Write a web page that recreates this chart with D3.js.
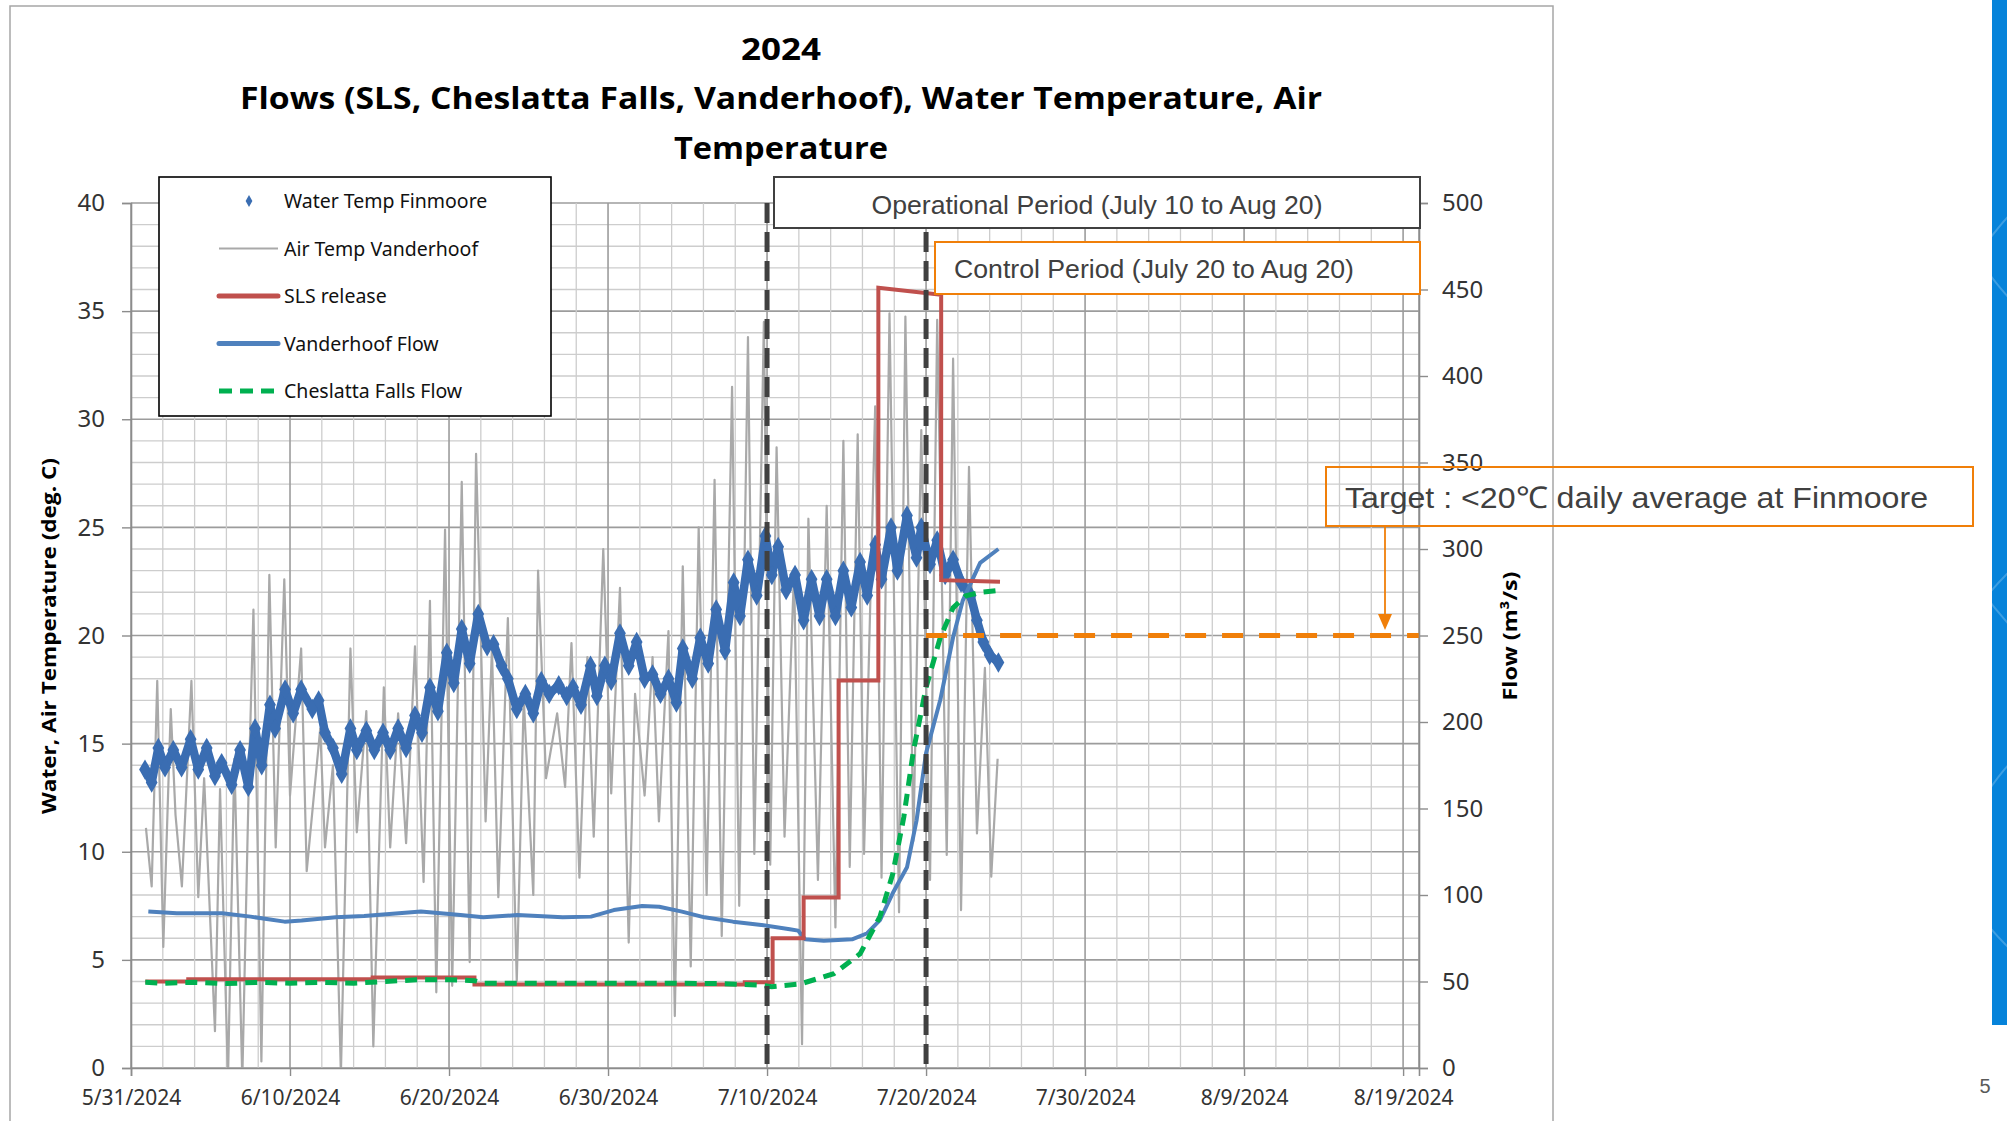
<!DOCTYPE html>
<html>
<head>
<meta charset="utf-8" />
<title>2024 Flows and Temperatures</title>
<script src="https://d3js.org/d3.v7.min.js"></script>
<style>
  body { margin:0; background:#fff; }
  svg text { font-family: "Noto Sans", "Open Sans", sans-serif; }
</style>
</head>
<body>
<svg id="chart"></svg>
<script>
// all series keyed by days after 5/31/2024 00:00
var waterDay = [0.88,1.3,1.72,2.14,2.66,3.18,3.75,4.23,4.76,5.28,5.7,6.33,6.86,7.38,7.8,8.22,8.74,9.06,9.69,10.2,10.7,11.4,11.8,12.2,12.7,13.25,13.8,14.2,14.8,15.3,15.85,16.3,16.8,17.3,17.86,18.3,18.8,19.3,19.86,20.3,20.8,21.3,21.84,22.4,22.8,23.3,23.7,24.26,24.8,25.3,25.8,26.3,26.9,27.4,27.8,28.3,28.9,29.3,29.8,30.2,30.75,31.3,31.8,32.3,32.8,33.3,33.8,34.3,34.7,35.3,35.8,36.3,36.8,37.36,37.9,38.3,38.8,39.35,39.9,40.3,40.7,41.2,41.76,42.3,42.8,43.3,43.75,44.3,44.8,45.3,45.85,46.3,46.8,47.2,47.8,48.2,48.8,49.4,49.7,50.25,50.7,51.2,51.7,52.2,52.8,53.2,53.6,54.0,54.55];
var waterTemp = [13.8,13.2,14.8,13.9,14.7,13.9,15.2,13.8,14.8,13.5,14.1,13.1,14.7,13.0,15.7,14.0,16.8,15.7,17.5,16.4,17.5,16.6,17.0,15.5,14.8,13.6,15.7,14.7,15.6,14.7,15.5,14.7,15.7,14.8,16.3,15.5,17.6,16.5,19.2,17.8,20.3,18.7,21.0,19.5,19.6,18.6,18.0,16.6,17.3,16.4,17.9,17.3,17.7,17.2,17.6,16.8,18.6,17.2,18.6,17.9,20.1,18.6,19.7,18.0,18.2,17.3,18.0,16.9,19.4,18.0,19.9,18.7,21.2,19.3,22.45,20.9,23.5,21.85,24.6,22.8,24.1,22.1,22.8,20.7,22.6,20.9,22.6,20.9,23.0,21.3,23.4,21.85,24.2,22.6,25.0,23.0,25.55,23.6,25.0,23.3,24.4,22.8,23.5,22.45,21.85,20.7,19.7,19.1,18.75];

var airDay = [0.94,1.3,1.65,2.03,2.5,2.8,3.2,3.8,4.23,4.6,5.28,5.6,6.1,6.5,7.0,7.4,7.7,8.2,8.7,9.1,9.64,10.0,10.7,11.05,11.9,12.2,12.7,13.2,13.8,14.2,14.8,15.24,15.9,16.3,16.8,17.3,17.86,18.4,18.8,19.2,19.75,20.2,20.8,21.3,21.7,22.3,22.7,23.1,23.7,24.26,24.7,25.3,25.6,26.1,26.8,27.3,27.7,28.2,28.7,29.1,29.7,30.2,30.75,31.3,31.7,32.3,32.8,33.2,33.8,34.2,34.7,35.2,35.7,36.2,36.7,37.15,37.8,38.25,38.8,39.2,39.8,40.2,40.6,41.1,41.7,42.2,42.6,43.2,43.75,44.3,44.8,45.2,45.7,46.1,46.8,47.2,47.7,48.3,48.7,49.2,49.7,50.25,50.7,51.3,51.7,52.2,52.7,53.2,53.7,54.1,54.5];
var airTemp = [11.1,8.4,17.9,5.6,16.6,11.7,8.4,17.9,7.9,13.4,1.7,12.9,-0.5,14.3,-0.5,13.0,21.2,0.3,22.8,10.2,22.6,12.6,19.4,9.1,15.7,10.2,14.0,-0.3,19.4,10.9,16.5,1.0,17.6,10.2,16.4,10.4,19.5,8.6,21.6,3.5,24.9,3.8,27.1,4.9,28.4,11.4,19.4,7.9,20.8,4.0,17.1,8.0,23.0,13.4,16.4,13.0,19.65,8.8,19.0,10.7,24.0,12.7,22.2,5.8,17.3,12.6,19.0,11.4,20.2,2.4,23.2,4.7,25.0,8.0,27.2,6.1,31.5,7.5,33.8,9.9,34.5,9.4,28.7,10.7,23.0,1.1,25.4,8.7,26.0,6.5,29.0,9.3,29.3,9.9,30.6,8.8,34.9,7.2,34.75,10.5,29.5,8.7,34.6,9.85,32.8,7.3,27.8,10.85,18.5,8.85,14.3];

var slsDay  = [0.9,3.6,3.6,15.2,15.2,21.6,21.6,38.6,38.6,40.35,40.35,42.3,42.3,44.5,44.5,47.0,47.0,50.95,50.95,54.65];
var slsFlow = [50,50,51.3,51.3,52.3,52.3,48.3,48.3,49.5,49.5,75,75,98.5,98.5,224,224,451,447,282,281];

var vanDay  = [1.09,2.88,5.74,7.52,9.66,10.73,12.87,14.66,18.23,20.72,22.15,24.3,27.15,28.93,30.36,32.14,33.22,34.65,36.07,37.86,39.64,41.43,41.96,42.4,43.57,45.35,46.3,47.1,47.9,48.8,49.4,50.0,50.9,51.7,52.3,53.4,54.55];
var vanFlow = [90.4,89.4,89.4,87.5,84.6,85.2,87.1,87.9,90.4,88.4,87.1,88.4,87.1,87.5,91.3,93.6,93.2,90.4,87.1,84.6,82.7,80.2,79.4,74.4,73.6,74.4,77.9,85.5,101,116,143,182,213,249,270,292,300];

var chesDay  = [0.9,2,4,6,8,10,12,14,16,18,20,21.6,22.2,25,28,31,34,37,39.5,40.3,42.1,44.2,45.85,47.1,47.9,48.6,49.2,50.0,50.9,51.7,52.5,53.5,54.55];
var chesFlow = [49.5,49,49.5,48.8,49.5,49,49.5,49,50,51,51,50.5,49,49,49,49,49,48.8,48,47,48.6,54.5,66,87.5,112,145,183,220,249,266,273,275,276];

var periodDays = [40, 50];      // 7/10 and 7/20
var targetTemp = 20;
var tempTicks = d3.range(0, 41, 5);
var flowTicks = d3.range(0, 501, 50);
var dateTickDays = d3.range(0, 81, 10);

var start = new Date(2024, 4, 31);
var end = new Date(2024, 7, 20);
function toDate(d) { return new Date(start.getTime() + d * 864e5); }

var width = 2007, height = 1121;
var plot = {left: 131, right: 1419, top: 203, bottom: 1068};

var svg = d3.select("#chart").attr("width", width).attr("height", height);

var x = d3.scaleTime().domain([start, end]).range([plot.left, plot.right]);
var yT = d3.scaleLinear().domain([0, 40]).range([plot.bottom, plot.top]);
var yF = d3.scaleLinear().domain([0, 500]).range([plot.bottom, plot.top]);

// slide decoration
svg.append("rect").attr("x", 1992).attr("y", 0).attr("width", 15).attr("height", 1025).attr("fill", "#0683da");
var deco = svg.append("g");
[[2200, 120, 260], [2230, 420, 300], [2190, 760, 260], [2260, 980, 330]].forEach(function(c) {
  deco.append("path")
    .attr("d", d3.arc()({innerRadius: c[2], outerRadius: c[2] + 2, startAngle: -Math.PI, endAngle: 0}))
    .attr("transform", "translate(" + c[0] + "," + c[1] + ")")
    .attr("fill", "rgba(255,255,255,0.22)");
});
svg.append("defs").append("clipPath").attr("id", "decoClip")
  .append("rect").attr("x", 1992).attr("y", 0).attr("width", 15).attr("height", 1025);
deco.attr("clip-path", "url(#decoClip)");
svg.append("text").attr("x", 1985).attr("y", 1093).attr("text-anchor", "middle")
  .style("font-family", "Liberation Sans, Arial").style("font-size", "20px").attr("fill", "#595959").text("5");

// chart frame
svg.append("rect").attr("x", 10).attr("y", 6).attr("width", 1543).attr("height", 1130)
  .attr("fill", "none").attr("stroke", "#a6a6a6").attr("stroke-width", 1.5);

// title
var title = svg.append("g").attr("font-weight", "bold").attr("fill", "#000");
[["2024", 60, 80], ["Flows (SLS, Cheslatta Falls, Vanderhoof), Water Temperature, Air", 109, 1082], ["Temperature", 159, 214]]
  .forEach(function(t) {
    title.append("text").attr("x", 781).attr("y", t[1]).attr("text-anchor", "middle")
      .style("font-family", "Open Sans, Noto Sans").style("font-size", "30px")
      .attr("textLength", t[2]).attr("lengthAdjust", "spacingAndGlyphs").text(t[0]);
  });

// gridlines
var grid = svg.append("g");
grid.selectAll(".hg").data(d3.range(0, 41, 1)).enter().append("line")
  .attr("x1", plot.left).attr("x2", plot.right)
  .attr("y1", function(d) { return yT(d); }).attr("y2", function(d) { return yT(d); })
  .attr("stroke", function(d) { return d % 5 == 0 ? "#9c9c9c" : "#cdcdcd"; })
  .attr("stroke-width", function(d) { return d % 5 == 0 ? 1.6 : 1.3; });
grid.selectAll(".vg").data(d3.range(0, 81, 2)).enter().append("line")
  .attr("y1", plot.top).attr("y2", plot.bottom)
  .attr("x1", function(d) { return x(toDate(d)); }).attr("x2", function(d) { return x(toDate(d)); })
  .attr("stroke", function(d) { return d % 10 == 0 ? "#9c9c9c" : "#cdcdcd"; })
  .attr("stroke-width", function(d) { return d % 10 == 0 ? 1.6 : 1.3; });
grid.append("line").attr("x1", plot.right).attr("x2", plot.right).attr("y1", plot.top).attr("y2", plot.bottom)
  .attr("stroke", "#9c9c9c").attr("stroke-width", 1.6);

svg.append("defs").append("clipPath").attr("id", "plotClip")
  .append("rect").attr("x", plot.left).attr("y", plot.top).attr("width", plot.right - plot.left).attr("height", plot.bottom - plot.top);

// series
var series = svg.append("g").attr("clip-path", "url(#plotClip)");

var airLine = d3.line().x(function(d, i) { return x(toDate(d)); }).y(function(d, i) { return yT(airTemp[i]); });
series.append("path").attr("d", airLine(airDay)).attr("fill", "none")
  .attr("stroke", "#a9a9a9").attr("stroke-width", 2.2).attr("stroke-linejoin", "round");

var waterColor = "#3a6db2";
var waterLine = d3.line().x(function(d) { return x(toDate(d)); }).y(function(d, i) { return yT(waterTemp[i]); });
series.append("path").attr("d", waterLine(waterDay)).attr("fill", "none")
  .attr("stroke", waterColor).attr("stroke-width", 8.5).attr("stroke-linejoin", "round");
series.selectAll(".wt").data(waterDay).enter().append("path")
  .attr("d", d3.symbol().type(d3.symbolDiamond).size(120))
  .attr("transform", function(d, i) { return "translate(" + x(toDate(d)) + "," + yT(waterTemp[i]) + ")"; })
  .attr("fill", waterColor);

function flowPath(days, vals) {
  return d3.line().x(function(d) { return x(toDate(d)); }).y(function(d, i) { return yF(vals[i]); })(days);
}
series.append("path").attr("d", flowPath(vanDay, vanFlow)).attr("fill", "none")
  .attr("stroke", "#4f81bd").attr("stroke-width", 4).attr("stroke-linejoin", "round");
series.append("path").attr("d", flowPath(slsDay, slsFlow)).attr("fill", "none")
  .attr("stroke", "#c0504d").attr("stroke-width", 4);
series.append("path").attr("d", flowPath(chesDay, chesFlow)).attr("fill", "none")
  .attr("stroke", "#00b050").attr("stroke-width", 5).attr("stroke-dasharray", "12,8");

// operational / control period lines
svg.selectAll(".period").data(periodDays).enter().append("line")
  .attr("x1", function(d) { return x(toDate(d)); }).attr("x2", function(d) { return x(toDate(d)); })
  .attr("y1", plot.top).attr("y2", plot.bottom)
  .attr("stroke", "#404040").attr("stroke-width", 5).attr("stroke-dasharray", "20,9");

// target line
svg.append("line").attr("x1", x(toDate(periodDays[1]))).attr("x2", plot.right)
  .attr("y1", yT(targetTemp)).attr("y2", yT(targetTemp))
  .attr("stroke", "#f07f09").attr("stroke-width", 5).attr("stroke-dasharray", "21,16");

// axes
var xAxis = svg.append("g").attr("transform", "translate(0," + plot.bottom + ")")
  .call(d3.axisBottom(x).tickValues(dateTickDays.map(toDate)).tickFormat(d3.timeFormat("%-m/%-d/%Y")).tickSize(8).tickPadding(14));
var yAxisL = svg.append("g").attr("transform", "translate(" + plot.left + ",0)")
  .call(d3.axisLeft(yT).tickValues(tempTicks).tickSize(9).tickPadding(17));
var yAxisR = svg.append("g").attr("transform", "translate(" + plot.right + ",0)")
  .call(d3.axisRight(yF).tickValues(flowTicks).tickSize(9).tickPadding(14));
[xAxis, yAxisL, yAxisR].forEach(function(a) {
  a.select(".domain").attr("stroke", "#8c8c8c").attr("stroke-width", 1.6);
  a.selectAll(".tick line").attr("stroke", "#8c8c8c").attr("stroke-width", 1.4);
  a.selectAll("text").attr("fill", "#333").style("font-family", "Noto Sans");
});
xAxis.selectAll("text").style("font-size", "21px");
yAxisL.selectAll("text").style("font-size", "24px");
yAxisR.selectAll("text").style("font-size", "24px");

svg.append("text").attr("transform", "translate(56,636) rotate(-90)").attr("text-anchor", "middle")
  .style("font-family", "Open Sans, Noto Sans").style("font-size", "20px").attr("font-weight", "bold")
  .attr("textLength", 356).attr("lengthAdjust", "spacingAndGlyphs").text("Water, Air Temperature (deg. C)");
svg.append("text").attr("transform", "translate(1517,636) rotate(-90)").attr("text-anchor", "middle")
  .style("font-family", "Open Sans, Noto Sans").style("font-size", "20px").attr("font-weight", "bold")
  .attr("textLength", 129).attr("lengthAdjust", "spacingAndGlyphs").text("Flow (m³/s)");

// legend
var legend = svg.append("g");
legend.append("rect").attr("x", 159).attr("y", 177).attr("width", 392).attr("height", 239)
  .attr("fill", "#fff").attr("stroke", "#000").attr("stroke-width", 1.6);
var legendItems = ["Water Temp Finmoore", "Air Temp Vanderhoof", "SLS release", "Vanderhoof Flow", "Cheslatta Falls Flow"];
var legendY = d3.scalePoint().domain(legendItems).range([201, 391]);
legendItems.forEach(function(name, i) {
  var yy = legendY(name);
  if (i == 0) {
    legend.append("path").attr("d", d3.symbol().type(d3.symbolDiamond).size(40))
      .attr("transform", "translate(249," + yy + ")").attr("fill", waterColor);
  } else {
    var ln = legend.append("line").attr("x1", 219).attr("x2", 278).attr("y1", yy).attr("y2", yy);
    if (i == 1) ln.attr("stroke", "#a9a9a9").attr("stroke-width", 2.2);
    if (i == 2) ln.attr("stroke", "#c0504d").attr("stroke-width", 5).attr("stroke-linecap", "round");
    if (i == 3) ln.attr("stroke", "#4f81bd").attr("stroke-width", 5).attr("stroke-linecap", "round");
    if (i == 4) ln.attr("stroke", "#00b050").attr("stroke-width", 5).attr("stroke-dasharray", "13,8").attr("x2", 282);
  }
  legend.append("text").attr("x", 284).attr("y", yy + 7).style("font-size", "19.5px").attr("fill", "#111").text(name);
});

// annotation boxes
var boxFont = "Liberation Sans, Arial";
svg.append("rect").attr("x", 774).attr("y", 177).attr("width", 646).attr("height", 51)
  .attr("fill", "#fff").attr("stroke", "#404040").attr("stroke-width", 2);
svg.append("text").attr("x", 1097).attr("y", 214).attr("text-anchor", "middle")
  .style("font-family", boxFont).style("font-size", "26px").attr("fill", "#404040")
  .attr("textLength", 451).attr("lengthAdjust", "spacingAndGlyphs").text("Operational Period (July 10 to Aug 20)");

svg.append("rect").attr("x", 935).attr("y", 242).attr("width", 485).attr("height", 52)
  .attr("fill", "#fff").attr("stroke", "#f07f09").attr("stroke-width", 2);
svg.append("text").attr("x", 954).attr("y", 278)
  .style("font-family", boxFont).style("font-size", "26px").attr("fill", "#404040")
  .attr("textLength", 400).attr("lengthAdjust", "spacingAndGlyphs").text("Control Period (July 20 to Aug 20)");

svg.append("rect").attr("x", 1326).attr("y", 467).attr("width", 647).attr("height", 59)
  .attr("fill", "none").attr("stroke", "#f07f09").attr("stroke-width", 2);
svg.append("text").attr("x", 1345).attr("y", 508)
  .style("font-family", boxFont).style("font-size", "30px").attr("fill", "#404040")
  .attr("textLength", 583).attr("lengthAdjust", "spacingAndGlyphs").text("Target : <20℃ daily average at Finmoore");

// arrow to target line
svg.append("line").attr("x1", 1385).attr("x2", 1385).attr("y1", 526).attr("y2", 616)
  .attr("stroke", "#f07f09").attr("stroke-width", 1.8);
svg.append("path").attr("d", "M1378,614 L1392,614 L1385,630 Z").attr("fill", "#f07f09");
</script>
</body>
</html>
